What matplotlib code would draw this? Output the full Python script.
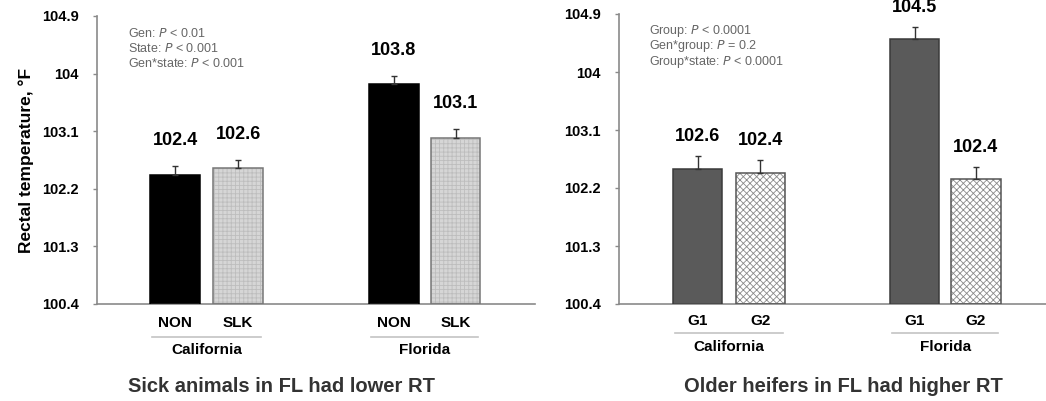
import matplotlib.pyplot as plt
from matplotlib import transforms

plt.rcParams['font.family'] = ['Liberation Sans', 'DejaVu Sans']
plt.rcParams['hatch.linewidth'] = 0.6

# data
states = ["California", "Florida"]
left_cats = ["NON", "SLK", "NON", "SLK"]
left_means = [102.42, 102.52, 103.84, 102.99]
left_err = [0.14, 0.13, 0.13, 0.15]
left_text = ["102.4", "102.6", "103.8", "103.1"]
left_stats = ["Gen: $\\it{P}$ < 0.01", "State: $\\it{P}$ < 0.001", "Gen*state: $\\it{P}$ < 0.001"]
left_title = "Sick animals in FL had lower RT"

right_cats = ["G1", "G2", "G1", "G2"]
right_means = [102.50, 102.43, 104.51, 102.34]
right_err = [0.19, 0.20, 0.19, 0.19]
right_text = ["102.6", "102.4", "104.5", "102.4"]
right_stats = ["Group: $\\it{P}$ < 0.0001", "Gen*group: $\\it{P}$ = 0.2", "Group*state: $\\it{P}$ < 0.0001"]
right_title = "Older heifers in FL had higher RT"

yticks = [100.4, 101.3, 102.2, 103.1, 104.0, 104.9]
ytick_labels = ["100.4", "101.3", "102.2", "103.1", "104", "104.9"]

pos = [0, 1, 3.47, 4.45]
W, H = 1046, 401

fig = plt.figure(figsize=(W / 100, H / 100), dpi=100)


def panel(rect, xlim, cats, means, err, texts, stats, title, styles, lab_off,
          ys, title_x):
    ax = fig.add_axes([rect[0] / W, 1 - rect[3] / H, (rect[1] - rect[0]) / W,
                       (rect[3] - rect[2]) / H])
    for x, m, st in zip(pos, means, styles):
        ax.bar(x, m - 100.4, bottom=100.4, width=0.79, color=st[0],
               hatch=st[1], edgecolor=st[2], linewidth=0, zorder=2)
        ax.bar(x, m - 100.4, bottom=100.4, width=0.79, color='none',
               edgecolor=st[3], linewidth=1.1, zorder=3)
    ax.errorbar(pos, means, yerr=[[0] * 4, err], fmt='none', ecolor='#333333',
                elinewidth=1.0, capsize=2.5, capthick=1.0, zorder=4)
    for x, m, e, t in zip(pos, means, err, texts):
        ax.annotate(t, (x, m + e), xytext=(0, lab_off), textcoords='offset points',
                    ha='center', va='bottom', fontsize=13, fontweight='bold')
    ax.set_xlim(*xlim)
    ax.set_ylim(100.4, 104.9)
    ax.set_yticks(yticks)
    ax.set_yticklabels(ytick_labels, fontsize=10.5, fontweight='bold')
    ax.set_xticks([])
    for s in ['top', 'right']:
        ax.spines[s].set_visible(False)
    for s in ['left', 'bottom']:
        ax.spines[s].set_color('#8a8a8a')
        ax.spines[s].set_linewidth(1.2)
    ax.tick_params(axis='y', direction='out', length=3, width=1, color='#8a8a8a', pad=10)

    tr = transforms.blended_transform_factory(ax.transData, ax.transAxes)
    for x, c in zip(pos, cats):
        ax.text(x, ys[0], c, transform=tr, ha='center', va='center',
                fontsize=11, fontweight='bold')
    for i, s in enumerate(states):
        a, b = pos[2 * i], pos[2 * i + 1]
        ax.plot([a - 0.36, b + 0.36], [ys[1], ys[1]], transform=tr, color='#c4c4c4',
                lw=1.2, clip_on=False)
        ax.text((a + b) / 2, ys[2], s, transform=tr, ha='center', va='center',
                fontsize=11, fontweight='bold')
    for i, s in enumerate(stats):
        ax.text(0.07, 0.94 - i * 0.052, s, transform=ax.transAxes, fontsize=9,
                color='#666666', va='center')
    fig.text(title_x / W, 1 - 387 / H, title, ha='center', va='center',
             fontsize=14.5, fontweight='bold', color='#333333')
    return ax


left_styles = [('black', None, 'black', 'black'),
               ('#d6d6d6', '++++', '#bdbdbd', '#777777'),
               ('black', None, 'black', 'black'),
               ('#d6d6d6', '++++', '#bdbdbd', '#777777')]
right_styles = [('#5a5a5a', None, '#5a5a5a', '#3a3a3a'),
                ('white', 'xxxxx', '#8a8a8a', '#555555'),
                ('#5a5a5a', None, '#5a5a5a', '#3a3a3a'),
                ('white', 'xxxxx', '#8a8a8a', '#555555')]

ax1 = panel((97, 535, 16, 304), (-1.24, 5.71), left_cats, left_means, left_err,
            left_text, left_stats, left_title, left_styles, 12,
            (-0.066, -0.115, -0.16), 281)
ax1.set_ylabel("Rectal temperature, °F", fontsize=12.5, fontweight='bold', labelpad=6)

ax2 = panel((619, 1046, 14, 304), (-1.26, 5.57), right_cats, right_means, right_err,
            right_text, right_stats, right_title, right_styles, 8,
            (-0.059, -0.1, -0.148), 843)

fig.savefig("out.png", dpi=100)
